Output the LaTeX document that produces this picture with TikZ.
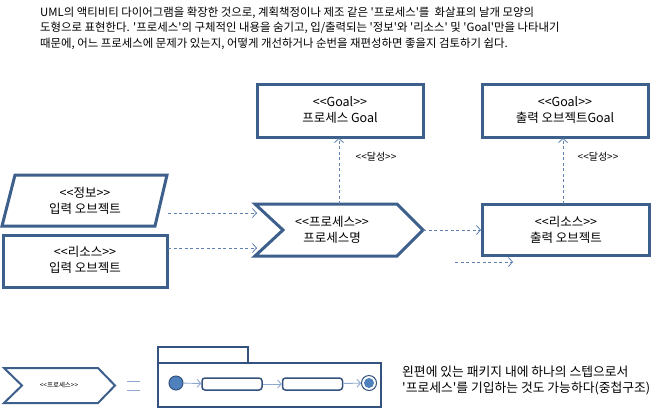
\documentclass[tikz,border=0pt]{standalone}
\usepackage{fontspec}
\newfontfamily\kr{Noto Sans CJK KR}
\usetikzlibrary{arrows.meta}
\definecolor{boxc}{HTML}{3D5F8C}
\definecolor{dashc}{HTML}{5F80B0}
\definecolor{pkgc}{HTML}{34527E}
\definecolor{lightc}{HTML}{8FA9D0}
\definecolor{fillc}{HTML}{4F81BD}
\tikzset{
  boxline/.style={draw=boxc, line width=3pt, line join=miter},
  lbl/.style={font=\kr\fontsize{12.5}{16.5}\selectfont, align=center, inner sep=0pt},
  dasharrow/.style={draw=dashc, line width=0.8pt, dash pattern=on 3pt off 2.5pt, -{Straight Barb[length=4pt,width=9pt,line width=0.8pt]}},
  solidarrow/.style={draw=lightc, line width=0.9pt, -{Straight Barb[length=3.5pt,width=8pt,line width=0.9pt]}},
  pkgline/.style={draw=pkgc, line width=1.6pt},
  small/.style={font=\kr\fontsize{10}{12}\selectfont, inner sep=0pt},
  toptext/.style={font=\kr\fontsize{11.4}{13}\selectfont, anchor=west, inner sep=0pt},
  actbox/.style={draw=pkgc, line width=1.5pt, rounded corners=3pt, minimum width=60pt, minimum height=12pt, inner sep=0pt},
}
\begin{document}
\begin{tikzpicture}[x=1pt,y=-1pt]
\useasboundingbox[fill=white] (0,0) rectangle (668,410);

% top text
\node[toptext] (t1) at (40,13) {UML의 액티비티 다이어그램을 확장한 것으로, 계획책정이나 제조 같은 '프로세스'를 \ 화살표의 날개 모양의};
\node[toptext] (t2) at (40,28) {도형으로 표현한다. '프로세스'의 구체적인 내용을 숨기고, 입/출력되는 '정보'와 '리소스' 및 'Goal'만을 나타내기};
\node[toptext] (t3) at (40,44) {때문에, 어느 프로세스에 문제가 있는지, 어떻게 개선하거나 순번을 재편성하면 좋을지 검토하기 쉽다.};

% input info (parallelogram)
\draw[boxline] (15,175) -- (167,175) -- (155,226) -- (2,226) -- cycle;
\node[lbl] (info) at (85,201) {<{}<정보>{}>\\입력 오브젝트};
% input resource
\draw[boxline] (3,235) rectangle (167,287);
\node[lbl] (inres) at (85,260) {<{}<리소스>{}>\\입력 오브젝트};

% process chevron
\draw[boxline] (255,204) -- (397,204) -- (423,230) -- (397,256) -- (255,256) -- (283,230) -- cycle;
\node[lbl] (proc) at (332,230) {<{}<프로세스>{}>\\프로세스명};
\coordinate (proctip) at (423,230);
\coordinate (proctop) at (339,204);

% goals
\draw[boxline] (257,84) rectangle (423,137);
\node[lbl] (goal1) at (340,110) {<{}<Goal>{}>\\프로세스 Goal};
\draw[boxline] (482,84) rectangle (648,137);
\node[lbl] (goal2) at (565,110) {<{}<Goal>{}>\\출력 오브젝트Goal};

% output
\draw[boxline] (482,204) rectangle (649,255);
\node[lbl] (outres) at (566,230) {<{}<리소스>{}>\\출력 오브젝트};

% connector end points
\coordinate (a1s) at (168,213); \coordinate (a1e) at (257,213);
\coordinate (a2s) at (168,248); \coordinate (a2e) at (257,248);
\coordinate (outin) at (481,230);
\coordinate (g1b) at (339,138);
\coordinate (outtop) at (563,204); \coordinate (g2b) at (563,138);
\coordinate (sts) at (455,262); \coordinate (ste) at (513,262);

\draw[dasharrow] (a1s) -- (a1e);
\draw[dasharrow] (a2s) -- (a2e);
\draw[dasharrow] (proctip) -- (outin);
\draw[dasharrow] (proctop) -- (g1b);
\draw[dasharrow] (outtop) -- (g2b);
\draw[dasharrow] (sts) -- (ste);
\node[small] (ach1) at (376,157) {<{}<달성>{}>};
\node[small] (ach2) at (598,157) {<{}<달성>{}>};

% bottom: small chevron
\draw[draw=boxc, line width=2pt] (4,368) -- (98,368) -- (115,385.5) -- (98,403) -- (4,403) -- (22,385.5) -- cycle;
\node[font=\kr\fontsize{6.5}{7}\selectfont, inner sep=0pt] (sproc) at (59,385.5) {<{}<프로세스>{}>};
% equal sign
\draw[draw=lightc, line width=1pt] (127,381.5) -- (140,381.5) (127,390) -- (140,390);

% package
\draw[pkgline] (158,363) -- (158,347) -- (248,347) -- (248,363);
\draw[pkgline] (158,363) rectangle (381,407);
\node[circle, draw=pkgc, fill=fillc, line width=1pt, minimum size=14pt, inner sep=0pt] (start) at (176,383) {};
\node[actbox] (act1) at (232,384) {};
\node[actbox] (act2) at (312.5,384) {};
\node[circle, draw=pkgc, line width=1pt, fill=white, minimum size=15pt, inner sep=0pt] (end) at (369,383) {};
\node[circle, fill=fillc, minimum size=10pt, inner sep=0pt] (endin) at (369,383) {};
\draw[solidarrow] (start) -- (act1);
\draw[solidarrow] (act1) -- (act2);
\draw[solidarrow] (act2) -- (end);

% explanation
\node[font=\kr\fontsize{12.8}{16}\selectfont, align=left, anchor=west, inner sep=0pt] (expl) at (402,380) {왼편에 있는 패키지 내에 하나의 스텝으로서\\'프로세스'를 기입하는 것도 가능하다(중첩구조)};
\end{tikzpicture}
\end{document}
